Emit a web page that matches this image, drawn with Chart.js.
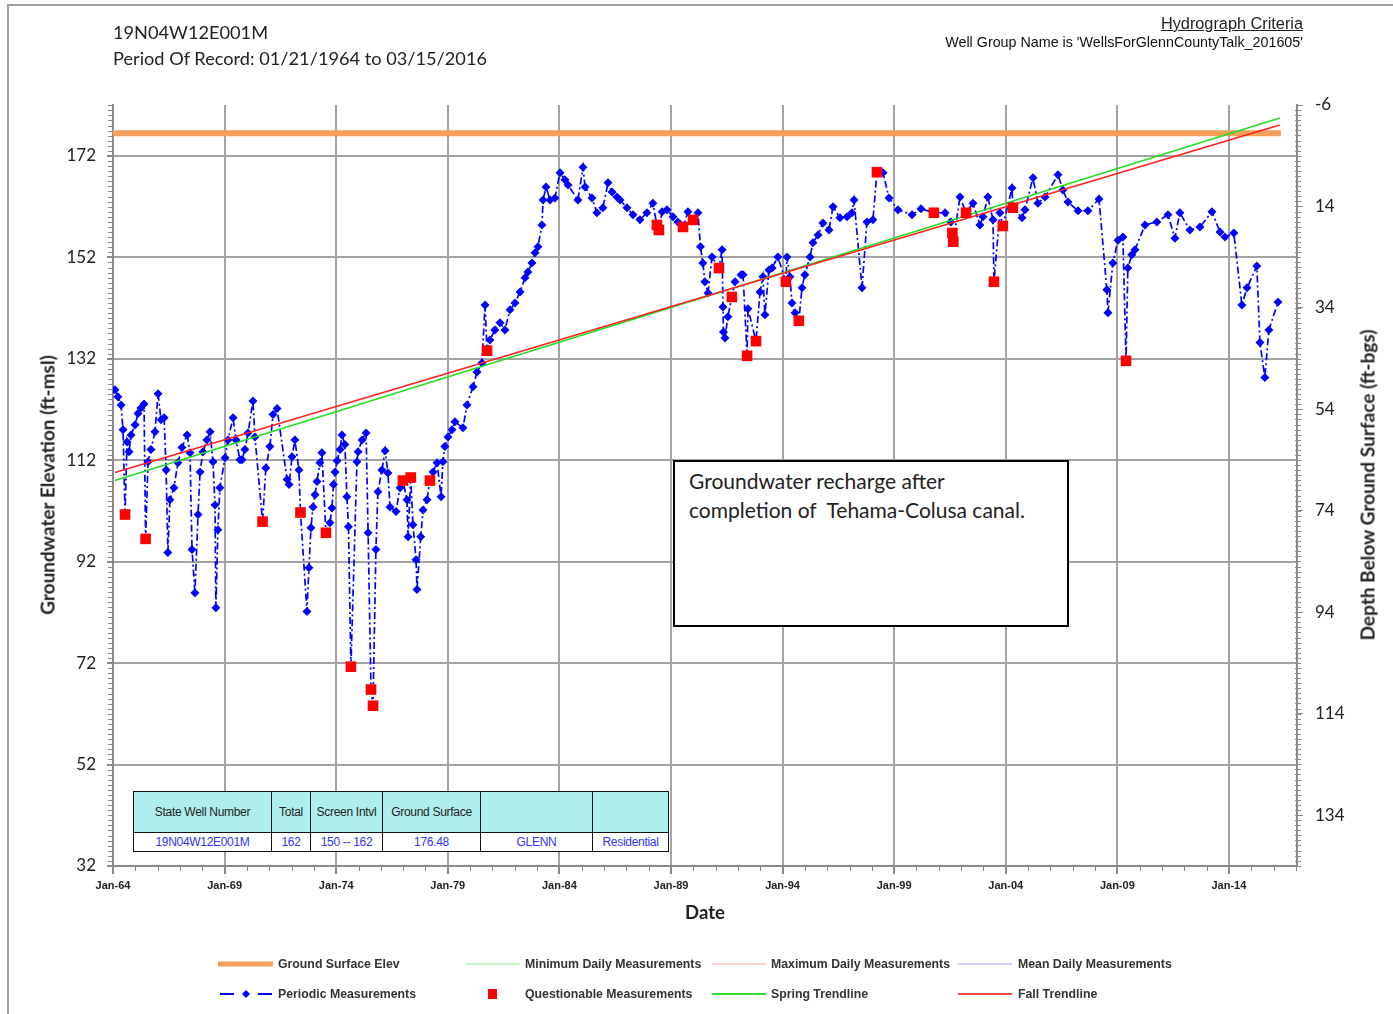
<!DOCTYPE html>
<html>
<head>
<meta charset="utf-8">
<script src="https://cdn.jsdelivr.net/npm/chart.js@4.4.0/dist/chart.umd.min.js"></script>
<style>
  body { margin: 0; background: #fff; }
  #wrap { position: relative; width: 1393px; height: 1014px; overflow: hidden; font-family: Lato, sans-serif; color: #222; }
  #frame { position: absolute; left: 7px; top: 4px; width: 1400px; height: 1020px; border-left: 2px solid #a0a0a0; border-top: 2px solid #a0a0a0; }
  canvas { position: absolute; left: 0; top: 0; }
  .t { position: absolute; white-space: nowrap; line-height: 1; }
  .ttl { font-size: 18.2px; }
  .crit { font-family: "Liberation Sans", Arial, sans-serif; }
  .axt { font-weight: bold; font-size: 19px; transform: translate(-50%, -50%) rotate(-90deg); }
  .note { position: absolute; left: 673px; top: 460px; width: 396px; height: 167px; border: 2px solid #000; background: #fff;
          font-size: 21px; line-height: 29px; padding: 4px 0 0 14px; box-sizing: border-box; white-space: nowrap; }
  table { position: absolute; left: 133px; top: 791px; border-collapse: collapse; font-family: "Liberation Sans", Arial, sans-serif;
          font-size: 12px; letter-spacing: -0.3px; table-layout: fixed; background: #fff; }
  td { border: 1.5px solid #111; text-align: center; padding: 0; }
  tr.h td { background: #afeeee; height: 40px; color: #222; }
  tr.d td { height: 18px; color: #3333ff; }
  .lg { position: absolute; font-family: "Liberation Sans", Arial, sans-serif; font-size: 12.3px; font-weight: bold; color: #333; white-space: nowrap; line-height: 1; transform: translateY(-50%); }
</style>
</head>
<body>
<div id="wrap">
  <div id="frame"></div>
  <canvas id="c" width="1393" height="1014"></canvas>

  <div class="t ttl" style="left:113px; top:23px;">19N04W12E001M</div>
  <div class="t ttl" style="left:113px; top:49px;">Period Of Record: 01/21/1964 to 03/15/2016</div>
  <div class="t crit" style="right:90px; top:15px; font-size:16.3px; text-decoration:underline;">Hydrograph Criteria</div>
  <div class="t crit" style="right:90px; top:35px; font-size:14.3px; color:#111;">Well Group Name is 'WellsForGlennCountyTalk_201605'</div>

  <div class="t axt" style="left:47px; top:485px;">Groundwater Elevation (ft-msl)</div>
  <div class="t axt" style="left:1367px; top:485px;">Depth Below Ground Surface (ft-bgs)</div>
  <div class="t" style="left:705px; top:912px; font-weight:bold; font-size:18.5px; transform:translate(-50%,-50%);">Date</div>

  <div class="note">Groundwater recharge after<br>completion of&nbsp; Tehama-Colusa canal.</div>

  <table>
    <colgroup><col style="width:138px"><col style="width:39px"><col style="width:72px"><col style="width:98px"><col style="width:112px"><col style="width:76px"></colgroup>
    <tr class="h"><td>State Well Number</td><td>Total</td><td>Screen Intvl</td><td>Ground Surface</td><td></td><td></td></tr>
    <tr class="d"><td>19N04W12E001M</td><td>162</td><td>150 -- 162</td><td>176.48</td><td>GLENN</td><td>Residential</td></tr>
  </table>

  <svg style="position:absolute; left:0; top:940px;" width="1393" height="74">
    <line x1="218" y1="24" x2="273" y2="24" stroke="#f5a05a" stroke-width="5"/>
    <line x1="466" y1="24" x2="520" y2="24" stroke="#c8f5c8" stroke-width="2"/>
    <line x1="712" y1="24" x2="766" y2="24" stroke="#ffd2d2" stroke-width="2"/>
    <line x1="958" y1="24" x2="1012" y2="24" stroke="#d2d2fa" stroke-width="2"/>
    <line x1="220" y1="54" x2="234" y2="54" stroke="#0000ff" stroke-width="2"/>
    <polygon points="246,50 250,54 246,58 242,54" fill="#0000ff"/>
    <line x1="258" y1="54" x2="272" y2="54" stroke="#0000ff" stroke-width="2"/>
    <rect x="488" y="49" width="9" height="10" fill="#ff0000"/>
    <line x1="712" y1="54" x2="766" y2="54" stroke="#33dd33" stroke-width="2"/>
    <line x1="958" y1="54" x2="1012" y2="54" stroke="#ff4444" stroke-width="2"/>
  </svg>
  <div class="lg" style="left:278px; top:964px;">Ground Surface Elev</div>
  <div class="lg" style="left:525px; top:964px;">Minimum Daily Measurements</div>
  <div class="lg" style="left:771px; top:964px;">Maximum Daily Measurements</div>
  <div class="lg" style="left:1018px; top:964px;">Mean Daily Measurements</div>
  <div class="lg" style="left:278px; top:994px;">Periodic Measurements</div>
  <div class="lg" style="left:525px; top:994px;">Questionable Measurements</div>
  <div class="lg" style="left:771px; top:994px;">Spring Trendline</div>
  <div class="lg" style="left:1018px; top:994px;">Fall Trendline</div>
</div>

<script>
// periodic measurements (decimal year, ft-msl)
const periodicYears = [
  1964.09,1964.22,1964.36,1964.45,1964.63,1964.72,1964.81,1964.99,1965.12,1965.25,
  1965.39,1965.57,1965.70,1965.88,1966.02,1966.15,1966.29,1966.38,1966.46,1966.55,
  1966.73,1966.91,1967.09,1967.32,1967.45,1967.54,1967.67,1967.81,1967.90,1968.03,
  1968.21,1968.35,1968.48,1968.57,1968.61,1968.70,1968.79,1969.02,1969.15,1969.38,
  1969.51,1969.69,1969.78,1969.91,1970.05,1970.27,1970.36,1970.85,1971.03,1971.17,
  1971.35,1971.80,1971.89,1972.02,1972.15,1972.33,1972.69,1972.78,1972.87,1972.96,
  1973.05,1973.14,1973.27,1973.36,1973.72,1973.81,1973.88,1973.95,1974.04,1974.17,
  1974.26,1974.39,1974.48,1974.55,1974.93,1974.98,1975.16,1975.34,1975.43,1975.78,
  1975.87,1976.05,1976.19,1976.32,1976.41,1976.68,1976.86,1977.17,1977.22,1977.44,
  1977.58,1977.62,1977.79,1977.89,1978.07,1978.34,1978.52,1978.70,1978.78,1978.87,
  1979.01,1979.19,1979.32,1979.68,1979.86,1980.13,1980.31,1980.53,1980.67,1980.89,
  1981.11,1981.34,1981.56,1981.79,1982.01,1982.24,1982.46,1982.59,1982.77,1982.91,
  1983.04,1983.22,1983.27,1983.40,1983.58,1983.80,1984.03,1984.25,1984.39,1984.83,
  1985.06,1985.15,1985.46,1985.68,1985.95,1986.18,1986.36,1986.58,1986.72,1987.03,
  1987.30,1987.61,1987.92,1988.19,1988.60,1988.82,1989.09,1989.31,1989.76,1990.21,
  1990.32,1990.43,1990.52,1990.66,1990.84,1991.29,1991.33,1991.35,1991.42,1991.55,
  1991.87,1992.14,1992.23,1992.45,1992.99,1993.12,1993.21,1993.39,1993.53,1993.79,
  1994.20,1994.33,1994.42,1994.56,1994.87,1995.00,1995.23,1995.36,1995.59,1995.81,
  1996.08,1996.26,1996.57,1996.89,1997.11,1997.20,1997.56,1997.78,1998.05,1998.50,
  1998.77,1999.17,1999.80,2000.20,2001.28,2001.54,2001.95,2002.53,2002.84,2002.98,
  2003.20,2003.43,2003.74,2004.28,2004.73,2004.86,2005.22,2005.44,2005.76,2006.34,
  2006.56,2006.79,2007.24,2007.68,2008.18,2008.53,2008.58,2008.80,2009.03,2009.25,
  2009.47,2009.65,2009.79,2010.24,2010.77,2011.27,2011.58,2011.80,2012.25,2012.70,
  2013.24,2013.60,2013.82,2014.22,2014.58,2014.81,2015.25,2015.39,2015.61,2015.79,
  2016.20
];
const periodicElev = [
  125.9,124.5,122.9,118.0,115.6,113.7,117.0,119.0,121.2,122.3,
  123.1,111.7,114.1,117.6,125.1,120.0,120.4,110.1,93.8,104.2,
  106.6,111.5,114.5,117.0,113.5,94.4,85.9,101.3,109.7,113.7,
  116.0,117.6,111.7,103.2,82.9,98.3,106.6,112.5,116.0,120.4,
  116.0,112.1,112.1,114.1,117.4,123.7,116.6,110.5,114.7,121.0,
  122.2,108.2,107.2,112.7,116.0,110.1,82.2,90.8,98.7,102.8,
  105.2,107.8,111.5,113.5,99.7,102.6,107.2,109.7,111.9,114.1,
  117.0,115.1,104.8,98.9,111.7,113.7,116.0,117.4,97.7,94.4,
  105.8,110.1,113.9,109.5,102.8,101.9,106.6,104.2,96.9,99.3,
  92.4,86.5,96.9,102.2,104.2,109.7,111.5,104.8,111.7,114.7,
  116.6,118.0,119.6,118.4,122.9,126.5,129.4,131.2,142.6,135.7,
  137.7,139.1,137.7,141.7,143.0,145.2,148.0,149.1,150.9,152.9,
  154.1,158.4,163.3,165.9,163.3,163.7,168.7,167.3,166.3,163.3,
  169.8,165.9,163.7,160.8,161.8,166.7,164.9,163.9,163.3,161.8,
  160.4,159.4,160.8,162.7,161.0,161.4,160.0,159.0,161.0,160.8,
  154.1,150.9,147.2,145.0,152.1,153.5,142.2,137.3,136.1,140.3,
  147.2,148.6,148.6,141.9,145.2,148.2,140.7,149.5,149.9,152.1,
  152.1,148.2,143.0,141.1,146.0,148.6,152.1,154.9,156.4,158.8,
  157.4,162.0,159.8,160.0,160.8,163.3,146.0,159.0,159.4,168.7,
  163.7,161.4,160.4,161.6,160.8,159.0,163.9,162.7,158.4,160.0,
  163.9,159.4,160.8,165.7,159.8,161.4,167.7,162.7,163.9,168.3,
  165.3,162.9,161.2,161.2,163.5,145.6,141.1,150.9,155.4,156.0,
  149.9,152.5,153.5,158.4,159.0,160.4,155.8,160.8,157.4,158.0,
  161.0,157.0,156.0,156.8,142.6,146.0,150.3,135.2,128.3,137.7,
  143.2
];

// questionable measurements
const questionableYears = [
  1964.54,1965.46,1970.70,1972.40,1973.54,1974.66,1975.56,1975.65,1976.99,1977.34,
  1978.20,1980.76,1988.37,1988.46,1989.54,1989.99,1991.15,1991.73,1992.41,1992.81,
  1994.15,1994.73,1998.23,2000.78,2001.61,2001.65,2002.22,2003.47,2003.87,2004.32,
  2009.39
];
const questionableElev = [
  101.3,96.5,99.9,101.7,97.7,71.3,66.8,63.6,108.0,108.6,
  108.0,133.6,158.4,157.4,158.0,159.4,149.9,144.2,132.6,135.5,
  147.2,139.5,168.8,160.8,156.8,155.1,160.8,147.2,158.2,161.8,
  131.6
];

const groundSurfaceElev = 176.48;
const groundYears = [1964.0, 2016.33];

const springTrendYears = [1964.09, 2016.28];
const springTrendElev = [108.0, 179.5];
const fallTrendYears = [1964.09, 2016.28];
const fallTrendElev = [109.6, 178.1];

const xTickYears = [1964, 1969, 1974, 1979, 1984, 1989, 1994, 1999, 2004, 2009, 2014];
const elevTicks = [32, 52, 72, 92, 112, 132, 152, 172];
const depthTicks = [-6, 14, 34, 54, 74, 94, 114, 134];

// line through all readings, questionable ones included
const allPoints = periodicYears.map((x, i) => ({ x: x, y: periodicElev[i], q: false }))
  .concat(questionableYears.map((x, i) => ({ x: x, y: questionableElev[i], q: true })))
  .sort((a, b) => a.x - b.x);

const gridColor = "#a3a3a3";
const axisColor = "#8a8a8a";

const minorTicks = {
  id: "minorTicks",
  afterDraw(chart) {
    const ctx = chart.ctx;
    const area = chart.chartArea;
    const s = chart.scales;
    ctx.save();
    ctx.strokeStyle = axisColor;
    ctx.lineWidth = 1;
    ctx.beginPath();
    for (let v = 33; v <= 182; v++) {
      const y = Math.round(s.y.getPixelForValue(v)) + 0.5;
      ctx.moveTo(area.left - 5, y); ctx.lineTo(area.left, y);
    }
    for (let d = -5; d <= 144; d++) {
      const y = Math.round(s.y2.getPixelForValue(d)) + 0.5;
      ctx.moveTo(area.right - 2, y); ctx.lineTo(area.right + 4, y);
    }
    for (let yr = 1965; yr <= 2017; yr++) {
      const x = Math.round(s.x.getPixelForValue(yr)) + 0.5;
      ctx.moveTo(x, area.bottom); ctx.lineTo(x, area.bottom + 5);
    }
    ctx.stroke();
    ctx.restore();
  }
};

new Chart(document.getElementById("c"), {
  type: "line",
  data: {
    datasets: [
      {
        label: "Questionable Measurements",
        data: questionableYears.map((x, i) => ({ x: x, y: questionableElev[i] })),
        showLine: false,
        pointStyle: "rect",
        pointRadius: 7.5,
        pointBackgroundColor: "#ff0000",
        pointBorderWidth: 0
      },
      {
        label: "Fall Trendline",
        data: fallTrendYears.map((x, i) => ({ x: x, y: fallTrendElev[i] })),
        borderColor: "#ff2020",
        borderWidth: 1.5,
        pointRadius: 0
      },
      {
        label: "Spring Trendline",
        data: springTrendYears.map((x, i) => ({ x: x, y: springTrendElev[i] })),
        borderColor: "#22dd22",
        borderWidth: 1.5,
        pointRadius: 0
      },
      {
        label: "Periodic Measurements",
        data: allPoints,
        borderColor: "#0000ff",
        borderWidth: 1.7,
        borderDash: [7, 3, 2, 3],
        pointStyle: "rectRot",
        pointRadius: ctx => (ctx.raw && ctx.raw.q ? 0 : 4.5),
        pointBackgroundColor: "#0000ff",
        pointBorderWidth: 0,
        tension: 0
      },
      {
        label: "Ground Surface Elev",
        data: groundYears.map(x => ({ x: x, y: groundSurfaceElev })),
        borderColor: "#f5a05a",
        borderWidth: 6,
        pointRadius: 0
      }
    ]
  },
  options: {
    responsive: false,
    animation: false,
    devicePixelRatio: 1,
    layout: { padding: { top: 105, left: 0, right: 0, bottom: 0 } },
    plugins: { legend: { display: false }, tooltip: { enabled: false } },
    scales: {
      x: {
        type: "linear",
        min: 1964,
        max: 2017.05,
        afterBuildTicks: s => { s.ticks = xTickYears.map(v => ({ value: v })); },
        afterFit: s => { s.height = 148; },
        ticks: {
          autoSkip: false,
          maxRotation: 0,
          padding: 5,
          color: "#222",
          font: { family: "Liberation Sans", size: 11, weight: "bold" },
          callback: v => "Jan-" + String(v).slice(2)
        },
        grid: { color: gridColor, lineWidth: 2, tickLength: 8, tickColor: axisColor },
        border: { color: axisColor, width: 2 }
      },
      y: {
        type: "linear",
        position: "left",
        min: 32,
        max: 182.05,
        afterBuildTicks: s => { s.ticks = elevTicks.map(v => ({ value: v })); },
        afterFit: s => { s.width = 113; },
        ticks: { padding: 11, color: "#222", font: { family: "Lato", size: 17 } },
        grid: { color: gridColor, lineWidth: 2, tickLength: 6, tickColor: axisColor },
        border: { color: axisColor, width: 2 }
      },
      y2: {
        type: "linear",
        position: "right",
        display: true,
        reverse: true,
        min: -6,
        max: 144.05,
        afterBuildTicks: s => { s.ticks = depthTicks.map(v => ({ value: v })); },
        afterFit: s => { s.width = 96; },
        ticks: { padding: 12, color: "#222", font: { family: "Lato", size: 17 } },
        grid: { drawOnChartArea: false, tickLength: 6, tickColor: axisColor, lineWidth: 1 },
        border: { color: axisColor, width: 2 }
      }
    }
  },
  plugins: [minorTicks]
});
</script>
</body>
</html>
